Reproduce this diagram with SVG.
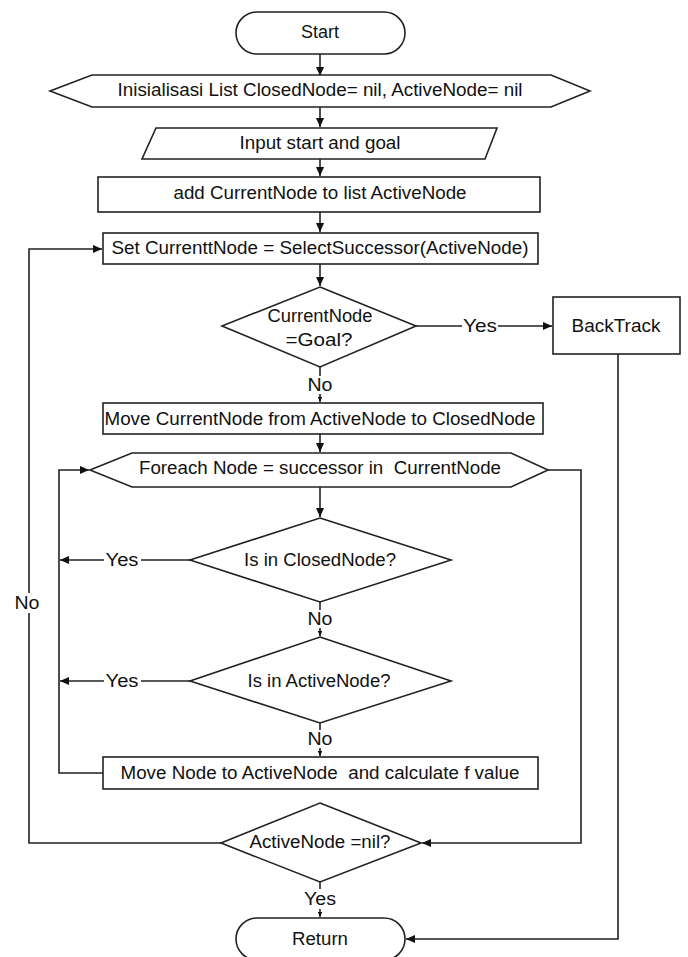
<svg xmlns="http://www.w3.org/2000/svg" width="688" height="957" viewBox="0 0 688 957">
<defs>
<marker id="arr" viewBox="0 0 10 10" refX="10" refY="5" markerWidth="10" markerHeight="9" markerUnits="userSpaceOnUse" orient="auto">
<path d="M0,0.5 L10,5 L0,9.5 z" fill="#111"/>
</marker>
<marker id="sarr" viewBox="0 0 10 10" refX="10" refY="5" markerWidth="5" markerHeight="5" markerUnits="userSpaceOnUse" orient="auto">
<path d="M0,0.5 L10,5 L0,9.5 z" fill="#111"/>
</marker>
<style>
.s{fill:#fff;stroke:#222;stroke-width:1.6}
.c{fill:none;stroke:#222;stroke-width:1.6}
.t{font-family:"Liberation Sans",Arial,sans-serif;font-size:17.5px;fill:#111;text-anchor:middle}
.lb{fill:#fff;stroke:none}
</style>
</defs>
<rect width="688" height="957" fill="#fff"/>
<g id="connectors">
<path class="c" d="M320,54 V76" marker-end="url(#arr)"/>
<path class="c" d="M320,107 V127" marker-end="url(#arr)"/>
<path class="c" d="M320,159 V176" marker-end="url(#arr)"/>
<path class="c" d="M320,212 V232" marker-end="url(#arr)"/>
<path class="c" d="M320,264 V286" marker-end="url(#arr)"/>
<path class="c" d="M416,326 H552" marker-end="url(#arr)"/>
<path class="c" d="M320,367 V402" marker-end="url(#sarr)"/>
<path class="c" d="M320,434 V452" marker-end="url(#arr)"/>
<path class="c" d="M320,487 V517" marker-end="url(#arr)"/>
<path class="c" d="M190,560 H60" marker-end="url(#arr)"/>
<path class="c" d="M320,602 V636" marker-end="url(#sarr)"/>
<path class="c" d="M190,681 H60" marker-end="url(#arr)"/>
<path class="c" d="M320,723 V756" marker-end="url(#sarr)"/>
<path class="c" d="M103,773 H59 V470 H89" marker-end="url(#arr)"/>
<path class="c" d="M548,470 H581 V843 H422" marker-end="url(#arr)"/>
<path class="c" d="M221,843 H29 V249 H102" marker-end="url(#arr)"/>
<path class="c" d="M320,882 V917" marker-end="url(#sarr)"/>
<path class="c" d="M618,354 V939 H406" marker-end="url(#arr)"/>
<rect class="lb" x="462" y="316" width="36" height="20"/>
<text class="t" x="480" y="332" textLength="34" lengthAdjust="spacingAndGlyphs">Yes</text>
<rect class="lb" x="307" y="376" width="28" height="18"/>
<text class="t" x="320" y="391" textLength="25" lengthAdjust="spacingAndGlyphs">No</text>
<rect class="lb" x="104" y="550" width="37" height="20"/>
<text class="t" x="122" y="566" textLength="33" lengthAdjust="spacingAndGlyphs">Yes</text>
<rect class="lb" x="307" y="610" width="28" height="18"/>
<text class="t" x="320" y="625" textLength="25" lengthAdjust="spacingAndGlyphs">No</text>
<rect class="lb" x="104" y="671" width="37" height="20"/>
<text class="t" x="122" y="687" textLength="33" lengthAdjust="spacingAndGlyphs">Yes</text>
<rect class="lb" x="307" y="730" width="28" height="18"/>
<text class="t" x="320" y="745" textLength="25" lengthAdjust="spacingAndGlyphs">No</text>
<rect class="lb" x="14" y="593" width="28" height="20"/>
<text class="t" x="27" y="609" textLength="25" lengthAdjust="spacingAndGlyphs">No</text>
<rect class="lb" x="302" y="889" width="36" height="20"/>
<text class="t" x="320" y="905" textLength="32" lengthAdjust="spacingAndGlyphs">Yes</text>
</g>
<g id="start">
<rect class="s" x="236" y="12" width="169" height="42" rx="21"/>
<text class="t" x="320" y="38" textLength="38" lengthAdjust="spacingAndGlyphs">Start</text>
</g>
<g id="init">
<polygon class="s" points="50,91 92,75 551,75 590,91 551,107 92,107"/>
<text class="t" x="320" y="96" textLength="405" lengthAdjust="spacingAndGlyphs">Inisialisasi List ClosedNode= nil, ActiveNode= nil</text>
</g>
<g id="input">
<polygon class="s" points="156,128 497,128 485,159 142,159"/>
<text class="t" x="320" y="149" textLength="161" lengthAdjust="spacingAndGlyphs">Input start and goal</text>
</g>
<g id="add">
<rect class="s" x="98" y="177" width="442" height="35"/>
<text class="t" x="320" y="199" textLength="293" lengthAdjust="spacingAndGlyphs">add CurrentNode to list ActiveNode</text>
</g>
<g id="set">
<rect class="s" x="103" y="233" width="435" height="31"/>
<text class="t" x="320" y="254" textLength="417" lengthAdjust="spacingAndGlyphs">Set CurrenttNode = SelectSuccessor(ActiveNode)</text>
</g>
<g id="goal">
<polygon class="s" points="320,287 416,326 320,367 222,326"/>
<text class="t" x="320" y="322" textLength="105" lengthAdjust="spacingAndGlyphs">CurrentNode</text>
<text class="t" x="319" y="346" textLength="67" lengthAdjust="spacingAndGlyphs">=Goal?</text>
</g>
<g id="backtrack">
<rect class="s" x="553" y="297" width="127" height="57"/>
<text class="t" x="616" y="332" textLength="89" lengthAdjust="spacingAndGlyphs">BackTrack</text>
</g>
<g id="move">
<rect class="s" x="103" y="403" width="440" height="31"/>
<text class="t" x="320" y="425" textLength="431" lengthAdjust="spacingAndGlyphs">Move CurrentNode from ActiveNode to ClosedNode</text>
</g>
<g id="foreach">
<polygon class="s" points="90,470 132,453 511,453 548,470 511,487 132,487"/>
<text class="t" x="320" y="474" textLength="362" lengthAdjust="spacingAndGlyphs" xml:space="preserve">Foreach Node = successor in  CurrentNode</text>
</g>
<g id="closed">
<polygon class="s" points="320,518 451,560 320,602 190,560"/>
<text class="t" x="320" y="566" textLength="152" lengthAdjust="spacingAndGlyphs">Is in ClosedNode?</text>
</g>
<g id="active">
<polygon class="s" points="320,637 451,681 320,723 190,681"/>
<text class="t" x="319" y="687" textLength="143" lengthAdjust="spacingAndGlyphs">Is in ActiveNode?</text>
</g>
<g id="movenode">
<rect class="s" x="103" y="757" width="435" height="32"/>
<text class="t" x="320" y="779" textLength="399" lengthAdjust="spacingAndGlyphs" xml:space="preserve">Move Node to ActiveNode  and calculate f value</text>
</g>
<g id="nil">
<polygon class="s" points="320,803 421,843 320,882 221,843"/>
<text class="t" x="320" y="848" textLength="141" lengthAdjust="spacingAndGlyphs">ActiveNode =nil?</text>
</g>
<g id="return">
<rect class="s" x="236" y="918" width="169" height="42" rx="21"/>
<text class="t" x="320" y="945" textLength="56" lengthAdjust="spacingAndGlyphs">Return</text>
</g>
</svg>
